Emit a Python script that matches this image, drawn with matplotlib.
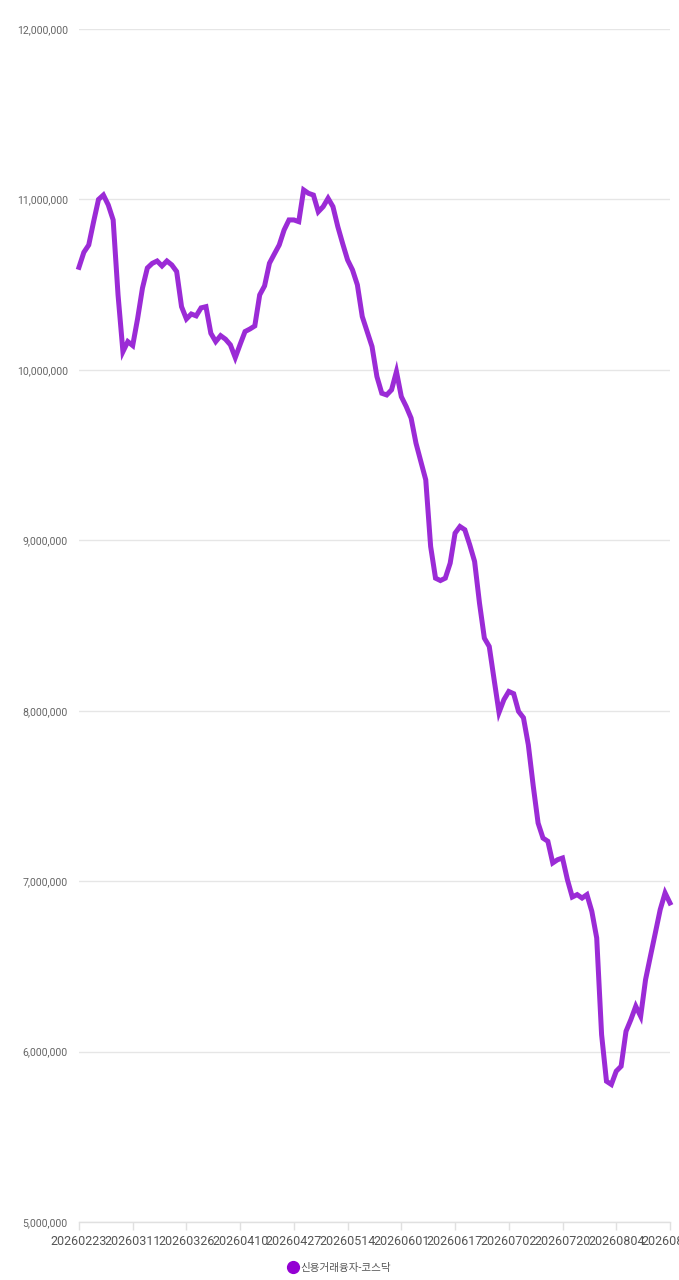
import matplotlib
matplotlib.use("Agg")
import matplotlib.pyplot as plt
from matplotlib.lines import Line2D
from matplotlib.ticker import FuncFormatter, MultipleLocator

plt.rcParams['font.family'] = ['Roboto', 'Noto Sans CJK KR', 'DejaVu Sans']

# 신용거래융자 잔고 (코스닥), 일별
series_name = "신용거래융자-코스닥"
tick_labels = ["20260223", "20260311", "20260326", "20260410", "20260427", "20260514",
               "20260601", "20260617", "20260702", "20260720", "20260804", "20260820"]
credit_balance = [
    10602000, 10690000, 10733000, 10870000, 11000000, 11026000, 10968000, 10880000,
    10440000, 10107000, 10166000, 10143000, 10300000, 10480000, 10598000, 10625000,
    10639000, 10610000, 10639000, 10616000, 10577000, 10371000, 10299000, 10328000,
    10317000, 10364000, 10371000, 10215000, 10166000, 10201000, 10180000, 10147000,
    10072000, 10150000, 10225000, 10240000, 10258000, 10440000, 10493000, 10626000,
    10680000, 10733000, 10821000, 10880000, 10880000, 10870000, 11056000, 11036000,
    11026000, 10928000, 10958000, 11007000, 10958000, 10840000, 10740000, 10645000,
    10587000, 10499000, 10313000, 10225000, 10137000, 9961000, 9863000, 9853000,
    9883000, 9990000, 9843000, 9785000, 9717000, 9570000, 9462000, 9355000,
    8964000, 8778000, 8764000, 8778000, 8866000, 9042000, 9081000, 9062000,
    8974000, 8876000, 8632000, 8426000, 8377000, 8182000, 7990000, 8065000,
    8113000, 8100000, 7996000, 7959000, 7800000, 7560000, 7341000, 7253000,
    7234000, 7107000, 7126000, 7136000, 7009000, 6907000, 6921000, 6901000,
    6921000, 6823000, 6667000, 6100000, 5826000, 5807000, 5885000, 5914000,
    6119000, 6188000, 6266000, 6207000, 6422000, 6560000, 6696000, 6833000,
    6931000, 6872000,
]
label_step = 11

fig = plt.figure(figsize=(6.79, 12.8), dpi=100)
ax = fig.add_axes([0.1163, 0.0453, 0.8704, 0.932])

x = list(range(len(credit_balance)))
ax.plot(x, credit_balance, color="#9b2bd6", lw=3.6, solid_joinstyle="miter",
        clip_on=False)

ax.set_xlim(0, len(credit_balance) - 1)
ax.set_ylim(5000000, 12000000)
ax.yaxis.set_major_locator(MultipleLocator(1000000))
ax.yaxis.set_major_formatter(FuncFormatter(lambda v, p: f"{int(v):,}"))
ticks = list(range(0, len(credit_balance), label_step))
ax.set_xticks(ticks)
ax.set_xticklabels(tick_labels[:len(ticks)])

ax.grid(axis="y", color="#e6e6e6", lw=1)
ax.set_axisbelow(True)
for s in ["top", "right", "left"]:
    ax.spines[s].set_visible(False)
ax.spines["bottom"].set_color("#e0e0e0")
ax.spines["bottom"].set_linewidth(1)

ax.tick_params(axis="y", length=0, pad=8, labelsize=7.6, labelcolor="#666666")
ax.tick_params(axis="x", length=6, width=1, color="#e0e0e0", pad=3,
               labelsize=9.0, labelcolor="#555555")

handle = Line2D([], [], marker="o", ls="none", color="#9400d3", markersize=8.5)
fig.legend(handles=[handle], labels=[series_name], loc="center",
           bbox_to_anchor=(0.5, 1 - 1268 / 1280), frameon=False,
           fontsize=7.6, labelcolor="#555555", handletextpad=0.15,
           borderaxespad=0, handlelength=1)

fig.savefig("out.png", dpi=100)
